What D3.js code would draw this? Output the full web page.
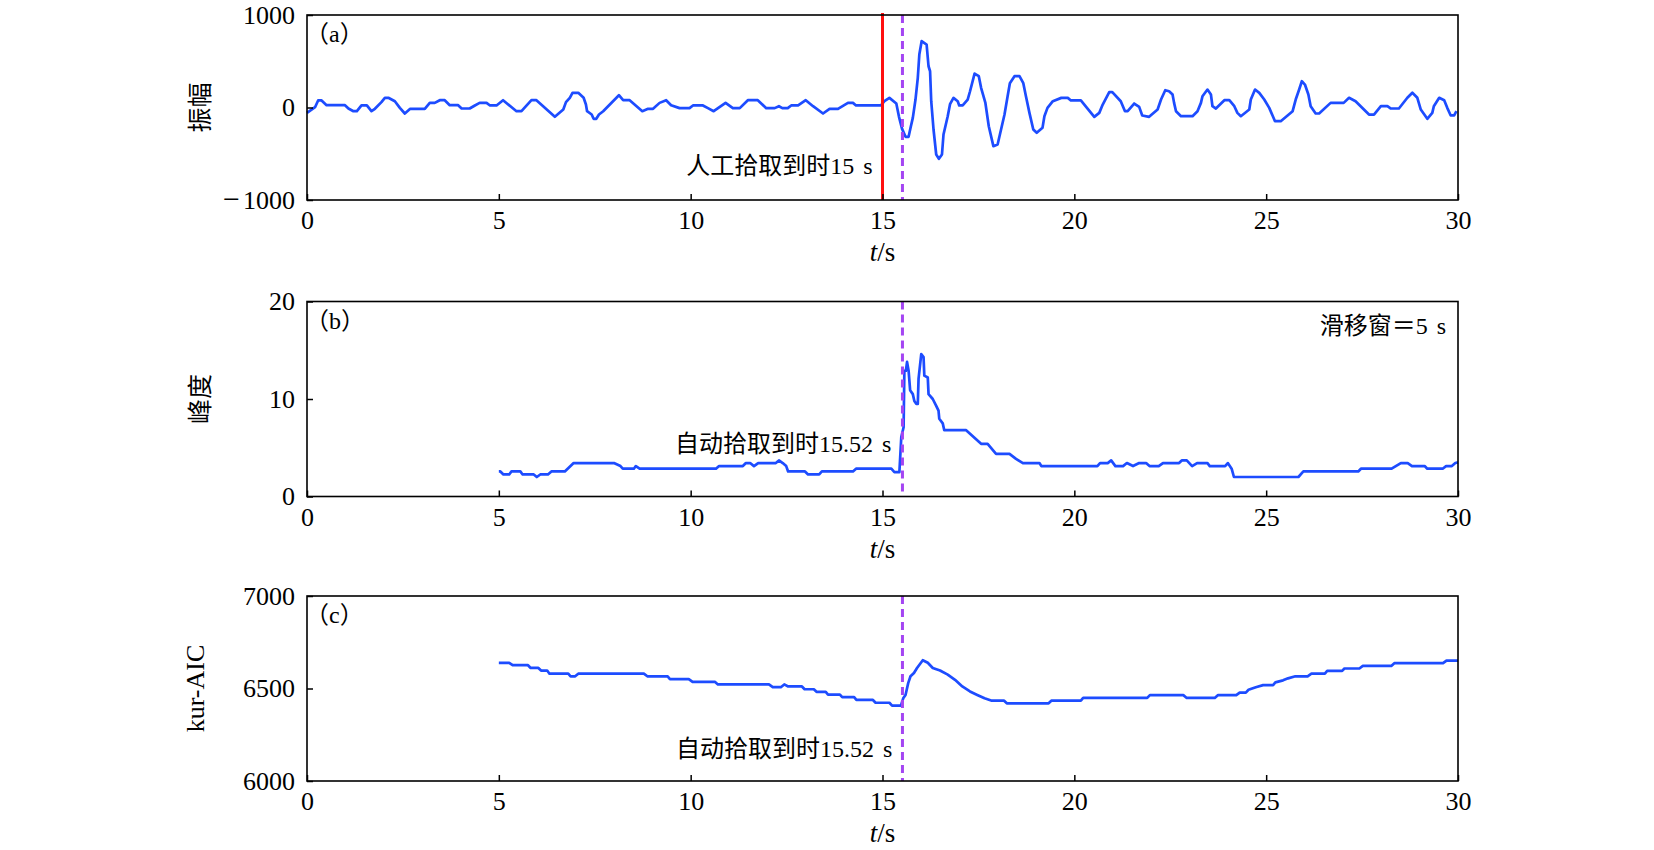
<!DOCTYPE html>
<html><head><meta charset="utf-8">
<script src="https://cdn.jsdelivr.net/npm/d3@7"></script>
<style>
html,body{margin:0;padding:0;background:#fff;}
svg{display:block;}
</style></head>
<body>
<svg id="chart" width="1654" height="850"></svg>
<script>
// ---------- data ----------
const xTicks = [0, 5, 10, 15, 20, 25, 30];
const ampTicks = [-1000, 0, 1000];
const kurTicks = [0, 10, 20];
const aicTicks = [6000, 6500, 7000];
const manualPick = 15;
const autoPick = 15.52;

const ampT = [0,0.21,0.29,0.38,0.51,0.99,1.08,1.21,1.30,1.42,1.56,1.68,1.77,1.94,2.03,2.12,2.29,2.42,2.55,2.69,3.07,3.20,3.33,3.46,3.59,3.72,3.94,4.03,4.24,4.375,4.50,4.68,4.77,4.94,5.11,5.46,5.59,5.85,5.98,6.46,6.68,6.75,6.85,6.92,7.07,7.21,7.27,7.30,7.42,7.47,7.54,7.61,7.72,8.13,8.24,8.41,8.74,8.89,9.02,9.19,9.36,9.49,9.71,9.97,10.06,10.32,10.45,10.60,10.91,11.10,11.28,11.49,11.75,11.97,12.19,12.30,12.39,12.53,12.62,12.80,13.00,13.19,13.45,13.62,13.84,14.10,14.23,14.31,14.96,15.05,15.18,15.36,15.43,15.51,15.60,15.68,15.74,15.79,15.86,15.92,15.96,16.02,16.15,16.20,16.24,16.27,16.33,16.40,16.47,16.55,16.59,16.70,16.76,16.85,16.96,17.00,17.09,17.22,17.28,17.40,17.51,17.57,17.68,17.77,17.89,18.00,18.09,18.18,18.26,18.32,18.44,18.57,18.67,18.74,18.83,18.93,19.02,19.17,19.22,19.30,19.44,19.66,19.83,19.91,20.17,20.35,20.52,20.65,20.74,20.91,20.99,21.21,21.32,21.39,21.56,21.69,21.77,21.95,22.17,22.26,22.37,22.47,22.56,22.60,22.65,22.78,23.08,23.21,23.30,23.34,23.47,23.56,23.60,23.69,23.91,24.04,24.17,24.25,24.34,24.56,24.60,24.71,24.82,24.95,25.08,25.23,25.38,25.69,25.77,25.86,25.93,26.01,26.10,26.16,26.29,26.38,26.68,27.02,27.16,27.33,27.68,27.81,27.99,28.16,28.25,28.46,28.68,28.81,28.94,29.03,29.20,29.33,29.37,29.51,29.64,29.72,29.81,29.90,29.96];
const ampV = [-58,3,76,76,25,25,-11,-40,-40,22,22,-40,-14,58,105,105,68,-4,-65,-14,-14,50,50,79,79,25,25,-11,-11,22,50,50,22,22,79,-40,-40,79,79,-101,-22,58,105,159,159,105,32,-40,-76,-122,-122,-76,-40,133,79,79,-40,-14,-14,50,79,25,-7,-7,22,22,-7,-40,50,-7,-7,79,79,-7,-7,14,-7,-7,22,22,79,14,-65,-14,-14,50,50,22,22,68,104,43,-101,-231,-317,-317,-202,-112,86,321,573,717,681,446,392,68,-238,-508,-555,-508,-292,-94,36,104,68,22,22,86,173,367,339,213,54,-202,-418,-400,-238,-76,119,263,339,339,263,119,-58,-238,-274,-220,-94,-4,68,104,104,76,76,-14,-101,-58,32,166,166,68,-40,-40,43,7,-86,-101,-22,86,187,176,140,50,-40,-94,-94,-40,50,122,194,140,14,-11,79,79,14,-58,-94,-22,86,194,158,86,-4,-148,-148,-40,86,194,284,248,140,14,-65,-65,50,50,105,68,-76,-76,14,14,-11,-11,105,159,105,-22,-122,-58,14,105,79,-4,-86,-86,-40];

const kurT = [5.0,5.04,5.12,5.27,5.33,5.56,5.62,5.91,5.99,6.08,6.28,6.37,6.72,6.95,8.0,8.17,8.23,8.52,8.57,8.67,10.66,10.74,11.36,11.44,11.55,11.65,11.76,12.22,12.3,12.4,12.49,12.54,12.98,13.06,13.35,13.42,14.23,14.31,15.23,15.31,15.44,15.49,15.55,15.57,15.61,15.64,15.68,15.72,15.79,15.83,15.88,15.92,15.94,16.01,16.07,16.09,16.18,16.2,16.31,16.4,16.46,16.48,16.57,16.61,17.18,17.57,17.74,17.96,18.31,18.48,18.66,19.09,19.14,20.6,20.67,20.87,20.96,21.07,21.27,21.37,21.53,21.69,21.87,21.96,22.2,22.31,22.73,22.8,22.93,23.07,23.2,23.47,23.53,23.93,24.0,24.1,24.16,25.84,25.97,27.4,27.47,28.27,28.51,28.69,28.8,29.13,29.2,29.6,29.69,29.84,29.93,30];
const kurV = [2.57,2.57,2.26,2.26,2.57,2.57,2.26,2.26,2.0,2.26,2.26,2.57,2.57,3.43,3.43,3.12,2.85,2.85,3.12,2.85,2.85,3.12,3.12,3.43,3.43,3.12,3.43,3.43,3.7,3.43,3.12,2.57,2.57,2.26,2.26,2.57,2.57,2.85,2.85,2.5,2.5,6.1,7.1,12.9,12.9,13.8,12.9,10.9,10.5,9.8,9.5,9.5,12.1,14.6,14.3,12.4,12.2,10.5,10.0,9.3,8.8,7.97,7.5,6.8,6.8,5.4,5.4,4.37,4.37,3.86,3.43,3.43,3.12,3.12,3.43,3.43,3.7,3.12,3.12,3.43,3.12,3.43,3.43,3.12,3.12,3.43,3.43,3.7,3.7,3.12,3.43,3.43,3.12,3.12,3.43,2.85,2.0,2.0,2.57,2.57,2.85,2.85,3.43,3.43,3.12,3.12,2.85,2.85,3.12,3.12,3.43,3.5];

const aicT = [5.0,5.27,5.36,5.76,5.83,6.03,6.1,6.26,6.32,6.81,6.87,6.99,7.07,8.78,8.87,9.4,9.46,9.95,10.05,10.63,10.71,12.04,12.14,12.35,12.44,12.54,12.9,12.97,13.21,13.28,13.52,13.58,13.89,13.95,14.26,14.32,14.75,14.82,15.18,15.25,15.48,15.54,15.6,15.67,15.73,15.82,15.9,16.05,16.18,16.31,16.5,16.7,16.89,17.08,17.28,17.47,17.66,17.85,18.17,18.24,19.33,19.4,20.17,20.23,21.9,21.97,22.84,22.93,23.66,23.74,24.22,24.31,24.47,24.54,24.73,24.92,25.18,25.24,25.44,25.57,25.76,26.08,26.18,26.53,26.59,26.98,27.04,27.43,27.52,28.26,28.34,29.61,29.7,30];
const aicV = [6639,6639,6626,6626,6611,6611,6597,6597,6580,6580,6566,6566,6580,6580,6566,6566,6551,6551,6536,6536,6522,6522,6507,6507,6522,6511,6511,6496,6496,6482,6482,6467,6467,6453,6453,6438,6438,6423,6423,6407,6407,6447,6465,6529,6566,6584,6611,6653,6639,6611,6597,6575,6547,6511,6484,6465,6447,6434,6434,6420,6420,6434,6434,6449,6449,6464,6464,6449,6449,6464,6464,6478,6478,6493,6507,6518,6518,6533,6544,6555,6566,6566,6580,6580,6595,6595,6608,6608,6622,6622,6637,6637,6651,6651];

// ---------- layout ----------
const svg = d3.select("#chart");
const LEFT = 307, RIGHT = 1458;
const x = d3.scaleLinear().domain([0, 30]).range([LEFT, RIGHT]);
const BLUE = "#1d4cff", PURPLE = "#a445f2", RED = "#ff1010";
const SERIF = "'Liberation Serif','Times New Roman',serif";
const MIXED = "'Liberation Serif','Noto Sans CJK SC',serif";
const CJK = "'Noto Sans CJK SC',sans-serif";

const panels = [
  {top: 15, bottom: 200, domain: [-1000, 1000], ticks: ampTicks, T: ampT, V: ampV,
   ylabel: "振幅", ylabelFont: CJK, tag: "a"},
  {top: 301.5, bottom: 496.5, domain: [0, 20], ticks: kurTicks, T: kurT, V: kurV,
   ylabel: "峰度", ylabelFont: CJK, tag: "b"},
  {top: 596, bottom: 781, domain: [6000, 7000], ticks: aicTicks, T: aicT, V: aicV,
   ylabel: "kur-AIC", ylabelFont: SERIF, tag: "c"}
];

panels.forEach((p, i) => {
  const y = d3.scaleLinear().domain(p.domain).range([p.bottom, p.top]);
  const g = svg.append("g");

  // data line
  const pts = p.T.map((t, k) => [t, p.V[k]]);
  const line = d3.line().x(d => x(d[0])).y(d => y(d[1]));
  g.append("path").datum(pts).attr("d", line)
    .attr("fill", "none").attr("stroke", BLUE).attr("stroke-width", 2.7)
    .attr("stroke-linejoin", "round");

  // pick lines
  if (i === 0) {
    g.append("line").attr("x1", x(manualPick)).attr("x2", x(manualPick))
      .attr("y1", p.top - 2).attr("y2", p.bottom)
      .attr("stroke", RED).attr("stroke-width", 3);
  }
  g.append("line").attr("x1", x(autoPick)).attr("x2", x(autoPick))
    .attr("y1", p.top).attr("y2", p.bottom)
    .attr("stroke", PURPLE).attr("stroke-width", 3).attr("stroke-dasharray", "8,5");

  // axes (ticks inward)
  const xa = g.append("g").attr("transform", `translate(0,${p.bottom})`)
    .call(d3.axisBottom(x).tickValues(xTicks).tickSize(-6).tickSizeOuter(0).tickPadding(11).tickFormat(d3.format("d")));
  const ya = g.append("g").attr("transform", `translate(${LEFT},0)`)
    .call(d3.axisLeft(y).tickValues(p.ticks).tickSize(-6).tickSizeOuter(0).tickPadding(12)
      .tickFormat(d => String(Math.abs(d))));
  [xa, ya].forEach(a => {
    a.select(".domain").remove();
    a.selectAll(".tick line").attr("stroke", "#000").attr("stroke-width", 1.5);
    a.selectAll(".tick text").attr("font-family", SERIF).attr("font-size", 26).attr("fill", "#000");
  });
  // long minus sign for negative tick labels
  ya.selectAll(".tick text").filter(d => d < 0).each(function(d) {
    const t = d3.select(this);
    const num = t.text();
    t.text(null);
    t.append("tspan").attr("font-size", 30).text("−");
    t.append("tspan").attr("dx", 3).text(num);
  });

  // frame
  g.append("rect").attr("x", LEFT).attr("y", p.top)
    .attr("width", RIGHT - LEFT).attr("height", p.bottom - p.top)
    .attr("fill", "none").attr("stroke", "#000").attr("stroke-width", 1.6);

  // x label
  const xl = g.append("text").attr("x", x(15)).attr("y", p.bottom + 61)
    .attr("text-anchor", "middle").attr("font-family", SERIF).attr("font-size", 27);
  xl.append("tspan").attr("font-style", "italic").text("t");
  xl.append("tspan").text("/s");

  // y label
  g.append("text").attr("transform", `translate(${i === 2 ? 195 : 198},${(p.top + p.bottom) / 2}) rotate(-90)`)
    .attr("text-anchor", "middle").attr("dominant-baseline", "central")
    .attr("font-family", p.ylabelFont).attr("font-size", i === 2 ? 26 : 25).text(p.ylabel);

  // panel tag
  const tg = g.append("text").attr("x", LEFT - 2).attr("y", p.top + 27)
    .attr("font-size", 24);
  tg.append("tspan").attr("font-family", CJK).text("（");
  tg.append("tspan").attr("font-family", SERIF).text(p.tag);
  tg.append("tspan").attr("font-family", CJK).text("）");
});

// annotations
const ann = [
  {x: x(manualPick) - 10, y: 174, txt: "人工拾取到时15 s"},
  {x: x(autoPick) - 11, y: 452, txt: "自动拾取到时15.52 s"},
  {x: x(autoPick) - 10, y: 757, txt: "自动拾取到时15.52 s"},
  {x: 1446, y: 334, txt: "滑移窗＝5 s"}
];
ann.forEach(a => {
  svg.append("text").attr("x", a.x).attr("y", a.y)
    .attr("text-anchor", "end").attr("font-family", MIXED).attr("font-size", 24)
    .attr("word-spacing", 3).text(a.txt);
});
</script>
</body></html>
